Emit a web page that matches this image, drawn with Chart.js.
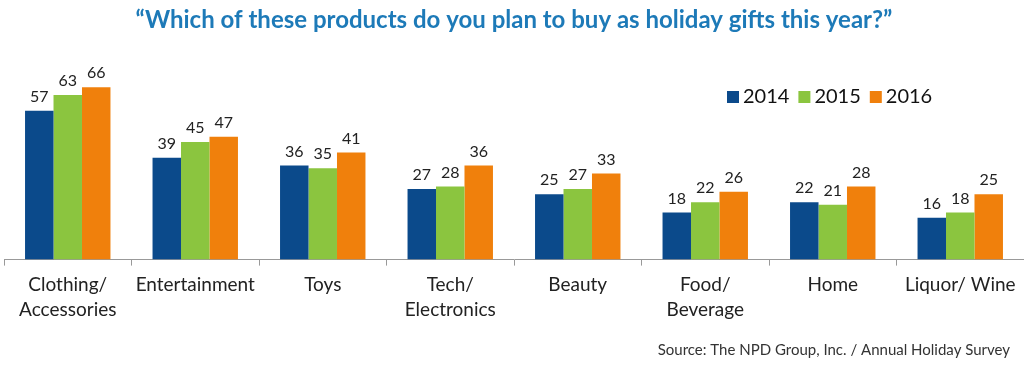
<!DOCTYPE html>
<html>
<head>
<meta charset="utf-8">
<script src="https://cdn.jsdelivr.net/npm/chart.js@4"></script>
<style>
  html, body { margin: 0; padding: 0; background: #fff; }
  #wrap { width: 1024px; height: 370px; }
</style>
</head>
<body>
<div id="wrap"><canvas id="barchart"></canvas></div>
<script>
const categories = [
    ['Clothing/', 'Accessories'], 'Entertainment', 'Toys', ['Tech/', 'Electronics'],
    'Beauty', ['Food/', 'Beverage'], 'Home', 'Liquor/ Wine'
];
const years = ['2014', '2015', '2016'];
const values2014 = [57, 39, 36, 27, 25, 18, 22, 16];
const values2015 = [63, 45, 35, 28, 27, 22, 21, 18];
const values2016 = [66, 47, 41, 36, 33, 26, 28, 25];
const colors = ['#0b4a8b', '#8bc53f', '#f0800c'];
const sourceText = 'Source: The NPD Group, Inc. / Annual Holiday Survey';

const FONT = 'Lato, "Liberation Sans", sans-serif';

// value labels over every bar
const barLabels = {
    id: 'barLabels',
    afterDatasetsDraw(chart) {
        const ctx = chart.ctx;
        ctx.save();
        ctx.font = '16px ' + FONT;
        ctx.fillStyle = '#222';
        ctx.textAlign = 'center';
        ctx.textBaseline = 'bottom';
        chart.data.datasets.forEach((ds, i) => {
            chart.getDatasetMeta(i).data.forEach((bar, j) => {
                ctx.fillText(ds.data[j], bar.x, bar.y - 6);
            });
        });
        ctx.restore();
    }
};

// legend + source line drawn by hand so they sit where the original has them
const extras = {
    id: 'extras',
    afterDraw(chart) {
        const ctx = chart.ctx;
        ctx.save();
        ctx.font = '20px ' + FONT;
        ctx.textBaseline = 'middle';
        let x = 727;
        const y = 97;
        chart.data.datasets.forEach((ds) => {
            ctx.fillStyle = ds.backgroundColor;
            ctx.fillRect(x, y - 6, 12, 12);
            x += 16;
            ctx.fillStyle = '#111';
            ctx.fillText(ds.label, x, y);
            x += ctx.measureText(ds.label).width + 9;
        });
        ctx.font = '15px ' + FONT;
        ctx.fillStyle = '#333';
        ctx.textAlign = 'right';
        ctx.fillText(sourceText, 1010, 350);
        ctx.restore();
    }
};

const ctx = document.getElementById('barchart').getContext('2d');
const myChart = new Chart(ctx, {
    type: 'bar',
    data: {
        labels: categories,
        datasets: [
            { label: years[0], data: values2014, backgroundColor: colors[0] },
            { label: years[1], data: values2015, backgroundColor: colors[1] },
            { label: years[2], data: values2016, backgroundColor: colors[2] }
        ]
    },
    options: {
        responsive: true,
        maintainAspectRatio: false,
        animation: false,
        datasets: {
            bar: { categoryPercentage: 0.67, barPercentage: 1.0 }
        },
        layout: { padding: { left: 4, right: 0, top: 6, bottom: 41 } },
        plugins: {
            legend: { display: false },
            tooltip: { enabled: false },
            title: {
                display: true,
                text: '\u201cWhich of these products do you plan to buy as holiday gifts this year?\u201d',
                color: '#1d7ab8',
                font: { family: FONT, size: 24, weight: 'bold' },
                padding: { top: 0, bottom: 42 }
            }
        },
        scales: {
            x: {
                grid: { display: true, drawOnChartArea: false, color: '#999', tickLength: 6 },
                border: { display: true, color: '#999' },
                ticks: {
                    color: '#222',
                    font: { family: FONT, size: 19, lineHeight: 1.3 },
                    padding: 7, maxRotation: 0, autoSkip: false
                }
            },
            y: {
                display: false,
                min: 0,
                max: 70
            }
        }
    },
    plugins: [barLabels, extras]
});
</script>
</body>
</html>
